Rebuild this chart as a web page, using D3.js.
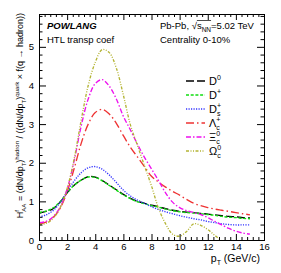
<!DOCTYPE html>
<html>
<head>
<meta charset="utf-8">
<script src="https://cdn.jsdelivr.net/npm/d3@7"></script>
<style>
body { margin: 0; background: #fff; }
text { font-family: "Liberation Sans", Arial, sans-serif; fill: #000; white-space: pre; }
</style>
</head>
<body>
<script>
// pT grid (GeV/c) and H_AA values
const ptValues = [0, 0.5, 1, 1.5, 2, 2.5, 3, 3.5, 4, 4.5, 5, 5.5, 6, 6.5, 7, 7.5,
                  8, 8.5, 9, 9.5, 10, 10.5, 11, 11.5, 12, 12.5, 13, 13.5, 14, 14.5, 15];
const hD0 = [0.69, 0.74, 0.81, 0.98, 1.22, 1.42, 1.55, 1.64, 1.63, 1.54, 1.42, 1.30, 1.18, 1.08, 1.00, 0.95,
             0.90, 0.86, 0.81, 0.77, 0.74, 0.72, 0.71, 0.69, 0.67, 0.65, 0.63, 0.61, 0.60, 0.58, 0.57];
const hDplus = [0.71, 0.75, 0.83, 0.99, 1.22, 1.42, 1.55, 1.63, 1.62, 1.53, 1.41, 1.29, 1.17, 1.07, 0.99, 0.94,
                0.89, 0.85, 0.80, 0.76, 0.73, 0.71, 0.70, 0.68, 0.66, 0.64, 0.61, 0.59, 0.58, 0.56, 0.55];
const hDs = [0.60, 0.65, 0.76, 0.97, 1.25, 1.53, 1.74, 1.87, 1.90, 1.83, 1.68, 1.49, 1.29, 1.14, 1.03, 0.95,
             0.86, 0.79, 0.73, 0.68, 0.63, 0.59, 0.55, 0.52, 0.48, 0.45, 0.42, 0.40, 0.39, 0.39, 0.39];
const hLc = [0.42, 0.46, 0.58, 0.82, 1.25, 1.85, 2.50, 3.00, 3.30, 3.38, 3.26, 3.02, 2.70, 2.40, 2.15, 1.90,
             1.65, 1.50, 1.37, 1.26, 1.16, 1.05, 0.95, 0.89, 0.84, 0.80, 0.77, 0.74, 0.71, 0.68, 0.65];
const hXic = [0.45, 0.48, 0.60, 0.85, 1.32, 2.05, 2.95, 3.65, 4.05, 4.15, 3.98, 3.65, 3.20, 2.85, 2.48, 2.14,
              1.84, 1.54, 1.22, 0.98, 0.84, 0.76, 0.71, 0.66, 0.58, 0.48, 0.39, 0.30, 0.23, 0.18, 0.15];
const hOmc = [0.40, 0.43, 0.56, 0.83, 1.33, 2.10, 3.10, 4.00, 4.60, 4.93, 4.85, 4.45, 3.75, 2.98, 2.45, 1.92,
              1.40, 0.82, 0.42, 0.15, 0.10, 0.22, 0.42, 0.38, 0.27, 0.12, -0.03, -0.2, null, null, null];

const seriesValues = [hD0, hDplus, hDs, hLc, hXic, hOmc];
const legendMain = ['D', 'D', 'D', 'Λ', 'Ξ', 'Ω'];
const legendSub = ['', '', 's', 'c', 'c', 'c'];
const legendSup = ['0', '+', '+', '+', '0', '0'];
const colors = ['#000000', '#11dd11', '#3535ff', '#ee3333', '#ee11ee', '#b4b435'];
const dashes = ['8,3', '3,1.7', '1.2,1.3', '8,3,1.5,3', '5,2,1.5,2', '3,1.5,1,1.5,1,1.5'];

const xTickLabels = [0, 2, 4, 6, 8, 10, 12, 14, 16];
const yTickLabels = [0, 1, 2, 3, 4, 5];

const W = 281, H = 273;
const svg = d3.select('body').append('svg').attr('width', W).attr('height', H);

const x = d3.scaleLinear().domain([0, 16]).range([39, 264]);
const y = d3.scaleLinear().domain([0, 5.85]).range([240, 14]);

// draws a row of text pieces, returns [start,end] of each piece
function richText(g, x0, y0, parts) {
  let cx = x0, prevStart = x0, prevW = 0;
  const spans = [];
  parts.forEach(p => {
    const px = p.stack ? prevStart : cx;
    const t = g.append('text')
      .attr('x', px)
      .attr('y', y0 + (p.shift || 0))
      .attr('font-size', p.size)
      .text(p.text);
    if (p.bold) t.attr('font-weight', 'bold');
    if (p.italic) t.attr('font-style', 'italic');
    const w = t.node().getComputedTextLength();
    if (p.stack) {
      cx = prevStart + Math.max(prevW, w);
    } else {
      prevStart = px;
      prevW = w;
      cx = px + w;
    }
    spans.push([px, px + w]);
  });
  spans.total = cx - x0;
  return spans;
}

svg.append('clipPath').attr('id', 'frameClip')
  .append('rect')
  .attr('x', x(0)).attr('y', y(5.85))
  .attr('width', x(16) - x(0)).attr('height', y(0) - y(5.85));

// curves
const line = d3.line()
  .defined(d => d[1] !== null)
  .x(d => x(d[0]))
  .y(d => y(d[1]))
  .curve(d3.curveCatmullRom.alpha(0.5));

const curves = svg.append('g').attr('clip-path', 'url(#frameClip)');
seriesValues.forEach((vals, i) => {
  curves.append('path')
    .datum(ptValues.map((p, j) => [p, vals[j]]))
    .attr('d', line)
    .attr('fill', 'none')
    .attr('stroke', colors[i])
    .attr('stroke-width', 1.35)
    .attr('stroke-dasharray', dashes[i]);
});

// axes, ROOT style ticks inside the frame
const xMinor = d3.range(0, 16.01, 0.4).filter(v => Math.abs(v / 2 - Math.round(v / 2)) > 1e-6);
const yMinor = d3.range(0, 5.81, 0.2).filter(v => Math.abs(v - Math.round(v)) > 1e-6);

function styleAxis(g) {
  g.select('.domain').remove();
  g.selectAll('line').attr('stroke', '#000');
  g.selectAll('text').attr('font-size', 9.5).attr('font-family', '"Liberation Sans", Arial, sans-serif');
}

svg.append('g').attr('transform', `translate(0,${y(0)})`)
  .call(d3.axisBottom(x).tickValues(xTickLabels).tickSize(-6).tickPadding(3).tickFormat(d3.format('d')))
  .call(styleAxis);
svg.append('g').attr('transform', `translate(0,${y(0)})`)
  .call(d3.axisBottom(x).tickValues(xMinor).tickSize(-3).tickFormat(''))
  .call(styleAxis);
svg.append('g').attr('transform', `translate(0,${y(5.85)})`)
  .call(d3.axisTop(x).tickValues(xTickLabels).tickSize(-6).tickFormat(''))
  .call(styleAxis);
svg.append('g').attr('transform', `translate(0,${y(5.85)})`)
  .call(d3.axisTop(x).tickValues(xMinor).tickSize(-3).tickFormat(''))
  .call(styleAxis);

svg.append('g').attr('transform', `translate(${x(0)},0)`)
  .call(d3.axisLeft(y).tickValues(yTickLabels).tickSize(-7).tickPadding(5).tickFormat(d3.format('d')))
  .call(styleAxis);
svg.append('g').attr('transform', `translate(${x(0)},0)`)
  .call(d3.axisLeft(y).tickValues(yMinor).tickSize(-3.5).tickFormat(''))
  .call(styleAxis);
svg.append('g').attr('transform', `translate(${x(16)},0)`)
  .call(d3.axisRight(y).tickValues(yTickLabels).tickSize(-7).tickFormat(''))
  .call(styleAxis);
svg.append('g').attr('transform', `translate(${x(16)},0)`)
  .call(d3.axisRight(y).tickValues(yMinor).tickSize(-3.5).tickFormat(''))
  .call(styleAxis);

// frame
svg.append('rect')
  .attr('x', x(0) + 0.5).attr('y', y(5.85) + 0.5)
  .attr('width', x(16) - x(0)).attr('height', y(0) - y(5.85))
  .attr('fill', 'none').attr('stroke', '#000').attr('stroke-width', 1);

// x title, right aligned
const xt = svg.append('g');
const xtSpans = richText(xt, 0, 0, [
  { text: 'p', size: 10.5 },
  { text: 'T', size: 7, shift: 2.5 },
  { text: ' (GeV/c)', size: 10.5 }
]);
xt.attr('transform', `translate(${260 - xtSpans.total},262)`);

// y title, rotated, aligned to the top of the frame
const yt = svg.append('g').attr('transform', 'translate(23,13) rotate(-90)');
const ytInner = yt.append('g');
const ytSpans = richText(ytInner, 0, 0, [
  { text: 'H', size: 9 },
  { text: 'AA', size: 6, shift: 2.5 },
  { text: 'f', size: 6, shift: -4.5, stack: true },
  { text: ' = (dN/dp', size: 9 },
  { text: 'T', size: 6, shift: 2.5 },
  { text: ')', size: 9 },
  { text: 'hadron', size: 6, shift: -4.5 },
  { text: ' / ((dN/dp', size: 9 },
  { text: 'T', size: 6, shift: 2.5 },
  { text: ')', size: 9 },
  { text: 'quark', size: 6, shift: -4.5 },
  { text: ' × f(q → hadron))', size: 9 }
]);
ytInner.attr('transform', `translate(${-ytSpans.total},0)`);

// labels inside the frame
richText(svg, 47, 29, [{ text: 'POWLANG', size: 9.5, bold: true, italic: true }]);
richText(svg, 47, 42.5, [{ text: 'HTL transp coef', size: 9.5 }]);
const pb = richText(svg, 160, 29, [
  { text: 'Pb-Pb, √', size: 9.5 },
  { text: 's', size: 9.5 },
  { text: 'NN', size: 6.5, shift: 2.5 },
  { text: '=5.02 TeV', size: 9.5 }
]);
svg.append('line')
  .attr('x1', pb[1][0]).attr('x2', pb[2][1])
  .attr('y1', 20.5).attr('y2', 20.5)
  .attr('stroke', '#000').attr('stroke-width', 0.7);
richText(svg, 160, 42.5, [{ text: 'Centrality 0-10%', size: 9.5 }]);

// legend
const legendY = d3.scaleLinear().domain([0, 5]).range([81, 151]);
seriesValues.forEach((vals, i) => {
  const cy = legendY(i);
  svg.append('line')
    .attr('x1', 186).attr('x2', 205)
    .attr('y1', cy).attr('y2', cy)
    .attr('stroke', colors[i])
    .attr('stroke-width', 1.35)
    .attr('stroke-dasharray', dashes[i]);
  const parts = [{ text: legendMain[i], size: 11 }];
  if (legendSub[i]) parts.push({ text: legendSub[i], size: 7, shift: 3 });
  parts.push({ text: legendSup[i], size: 7, shift: -5, stack: !!legendSub[i] });
  richText(svg, 209, cy + 4, parts);
});
</script>
</body>
</html>
